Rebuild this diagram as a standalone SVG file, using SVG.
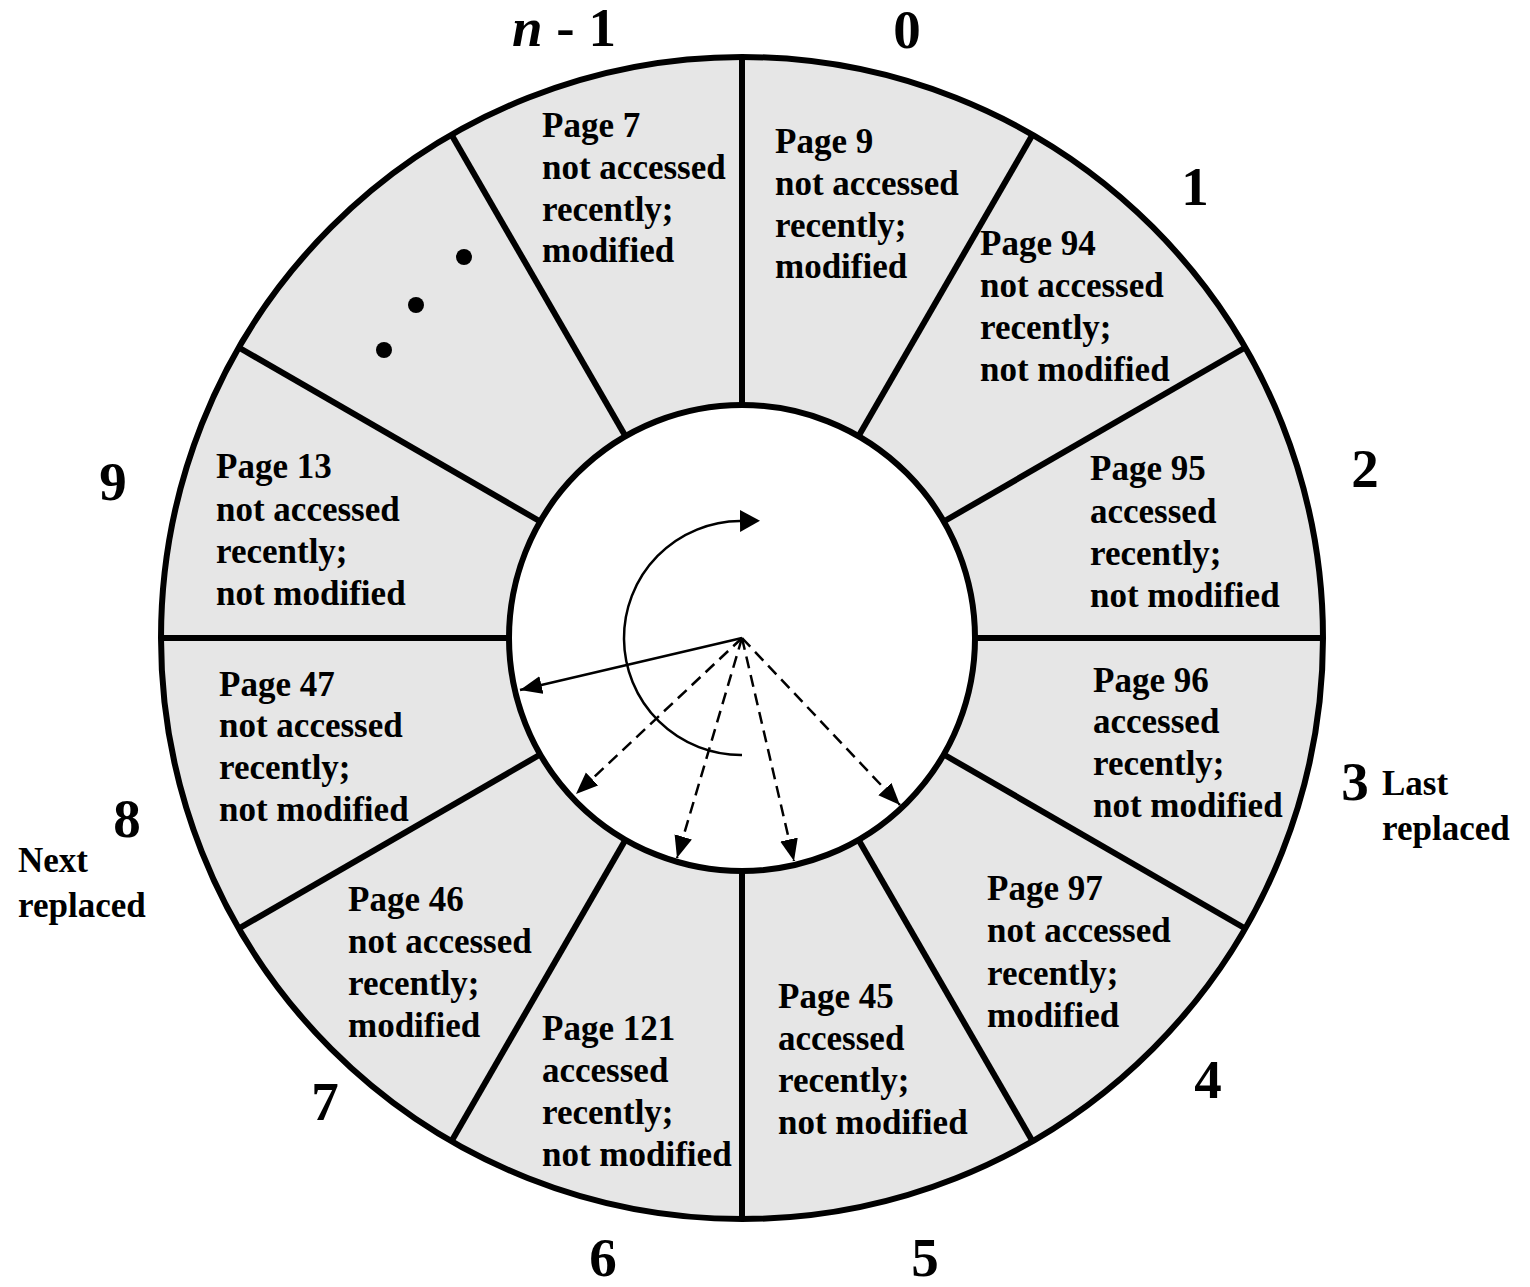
<svg xmlns="http://www.w3.org/2000/svg" width="1530" height="1287" viewBox="0 0 1530 1287">
<style>
.t{font-family:"Liberation Serif","Times New Roman",serif;font-weight:bold;font-size:35px;fill:#000}
.n{font-family:"Liberation Serif","Times New Roman",serif;font-weight:bold;font-size:55px;fill:#000}
.div{stroke:#000;stroke-width:6;fill:none}
.arr{stroke:#000;stroke-width:2.5;fill:none}
.dash{stroke-dasharray:12 7}
</style>
<defs>
<marker id="ah" markerUnits="userSpaceOnUse" markerWidth="24" markerHeight="20" refX="22" refY="9" orient="auto">
<path d="M0,0 L22,9 L0,18 Z" fill="#000"/>
</marker>
<marker id="ah0" markerUnits="userSpaceOnUse" markerWidth="24" markerHeight="24" refX="0" refY="11" orient="auto">
<path d="M0,0 L20,11 L0,22 Z" fill="#000"/>
</marker>
</defs>
<rect width="1530" height="1287" fill="#fff"/>
<g id="ring">
<circle cx="742" cy="638" r="581" fill="#e6e6e6" stroke="#000" stroke-width="6"/>
<line class="div" x1="742" y1="405" x2="742" y2="57"/>
<line class="div" x1="858.5" y1="436.2" x2="1032.5" y2="134.8"/>
<line class="div" x1="943.8" y1="521.5" x2="1245.2" y2="347.5"/>
<line class="div" x1="975" y1="638" x2="1323" y2="638"/>
<line class="div" x1="943.8" y1="754.5" x2="1245.2" y2="928.5"/>
<line class="div" x1="858.5" y1="839.8" x2="1032.5" y2="1141.2"/>
<line class="div" x1="742" y1="871" x2="742" y2="1219"/>
<line class="div" x1="625.5" y1="839.8" x2="451.5" y2="1141.2"/>
<line class="div" x1="540.2" y1="754.5" x2="238.8" y2="928.5"/>
<line class="div" x1="509" y1="638" x2="161" y2="638"/>
<line class="div" x1="540.2" y1="521.5" x2="238.8" y2="347.5"/>
<line class="div" x1="625.5" y1="436.2" x2="451.5" y2="134.8"/>
<circle cx="742" cy="638" r="233" fill="#fff" stroke="#000" stroke-width="6"/>
</g>
<g id="ellipsis">
<circle cx="464" cy="257" r="8" fill="#000"/>
<circle cx="416" cy="305" r="8" fill="#000"/>
<circle cx="384" cy="350" r="8" fill="#000"/>
</g>
<g id="connectors">
<path class="arr" d="M742,755 A117,117 0 0 1 740,521" marker-end="url(#ah0)"/>
<line class="arr" x1="742" y1="638" x2="520" y2="690" marker-end="url(#ah)"/>
<line class="arr dash" x1="742" y1="638" x2="576" y2="794" marker-end="url(#ah)"/>
<line class="arr dash" x1="742" y1="638" x2="677" y2="858" marker-end="url(#ah)"/>
<line class="arr dash" x1="742" y1="638" x2="794" y2="861" marker-end="url(#ah)"/>
<line class="arr dash" x1="742" y1="638" x2="900" y2="805" marker-end="url(#ah)"/>
</g>
<g id="slot-n-1">
<text class="n" x="512" y="46"><tspan font-style="italic">n</tspan> - 1</text>
<text class="t" x="542" y="137">Page 7</text>
<text class="t" x="542" y="179">not accessed</text>
<text class="t" x="542" y="221">recently;</text>
<text class="t" x="542" y="262">modified</text>
</g>
<g id="slot-0">
<text class="n" x="907" y="48" text-anchor="middle">0</text>
<text class="t" x="775" y="153">Page 9</text>
<text class="t" x="775" y="195">not accessed</text>
<text class="t" x="775" y="237">recently;</text>
<text class="t" x="775" y="278">modified</text>
</g>
<g id="slot-1">
<text class="n" x="1195" y="205" text-anchor="middle">1</text>
<text class="t" x="980" y="255">Page 94</text>
<text class="t" x="980" y="297">not accessed</text>
<text class="t" x="980" y="339">recently;</text>
<text class="t" x="980" y="381">not modified</text>
</g>
<g id="slot-2">
<text class="n" x="1365" y="487" text-anchor="middle">2</text>
<text class="t" x="1090" y="480">Page 95</text>
<text class="t" x="1090" y="523">accessed</text>
<text class="t" x="1090" y="565">recently;</text>
<text class="t" x="1090" y="607">not modified</text>
</g>
<g id="slot-3">
<text class="n" x="1355" y="800" text-anchor="middle">3</text>
<text class="t" x="1382" y="795">Last</text>
<text class="t" x="1382" y="840">replaced</text>
<text class="t" x="1093" y="692">Page 96</text>
<text class="t" x="1093" y="733">accessed</text>
<text class="t" x="1093" y="775">recently;</text>
<text class="t" x="1093" y="817">not modified</text>
</g>
<g id="slot-4">
<text class="n" x="1208" y="1098" text-anchor="middle">4</text>
<text class="t" x="987" y="900">Page 97</text>
<text class="t" x="987" y="942">not accessed</text>
<text class="t" x="987" y="985">recently;</text>
<text class="t" x="987" y="1027">modified</text>
</g>
<g id="slot-5">
<text class="n" x="925" y="1276" text-anchor="middle">5</text>
<text class="t" x="778" y="1008">Page 45</text>
<text class="t" x="778" y="1050">accessed</text>
<text class="t" x="778" y="1092">recently;</text>
<text class="t" x="778" y="1134">not modified</text>
</g>
<g id="slot-6">
<text class="n" x="603" y="1276" text-anchor="middle">6</text>
<text class="t" x="542" y="1040">Page 121</text>
<text class="t" x="542" y="1082">accessed</text>
<text class="t" x="542" y="1124">recently;</text>
<text class="t" x="542" y="1166">not modified</text>
</g>
<g id="slot-7">
<text class="n" x="325" y="1120" text-anchor="middle">7</text>
<text class="t" x="348" y="911">Page 46</text>
<text class="t" x="348" y="953">not accessed</text>
<text class="t" x="348" y="995">recently;</text>
<text class="t" x="348" y="1037">modified</text>
</g>
<g id="slot-8">
<text class="n" x="127" y="837" text-anchor="middle">8</text>
<text class="t" x="18" y="872">Next</text>
<text class="t" x="18" y="917">replaced</text>
<text class="t" x="219" y="696">Page 47</text>
<text class="t" x="219" y="737">not accessed</text>
<text class="t" x="219" y="779">recently;</text>
<text class="t" x="219" y="821">not modified</text>
</g>
<g id="slot-9">
<text class="n" x="113" y="500" text-anchor="middle">9</text>
<text class="t" x="216" y="478">Page 13</text>
<text class="t" x="216" y="521">not accessed</text>
<text class="t" x="216" y="563">recently;</text>
<text class="t" x="216" y="605">not modified</text>
</g>
</svg>
